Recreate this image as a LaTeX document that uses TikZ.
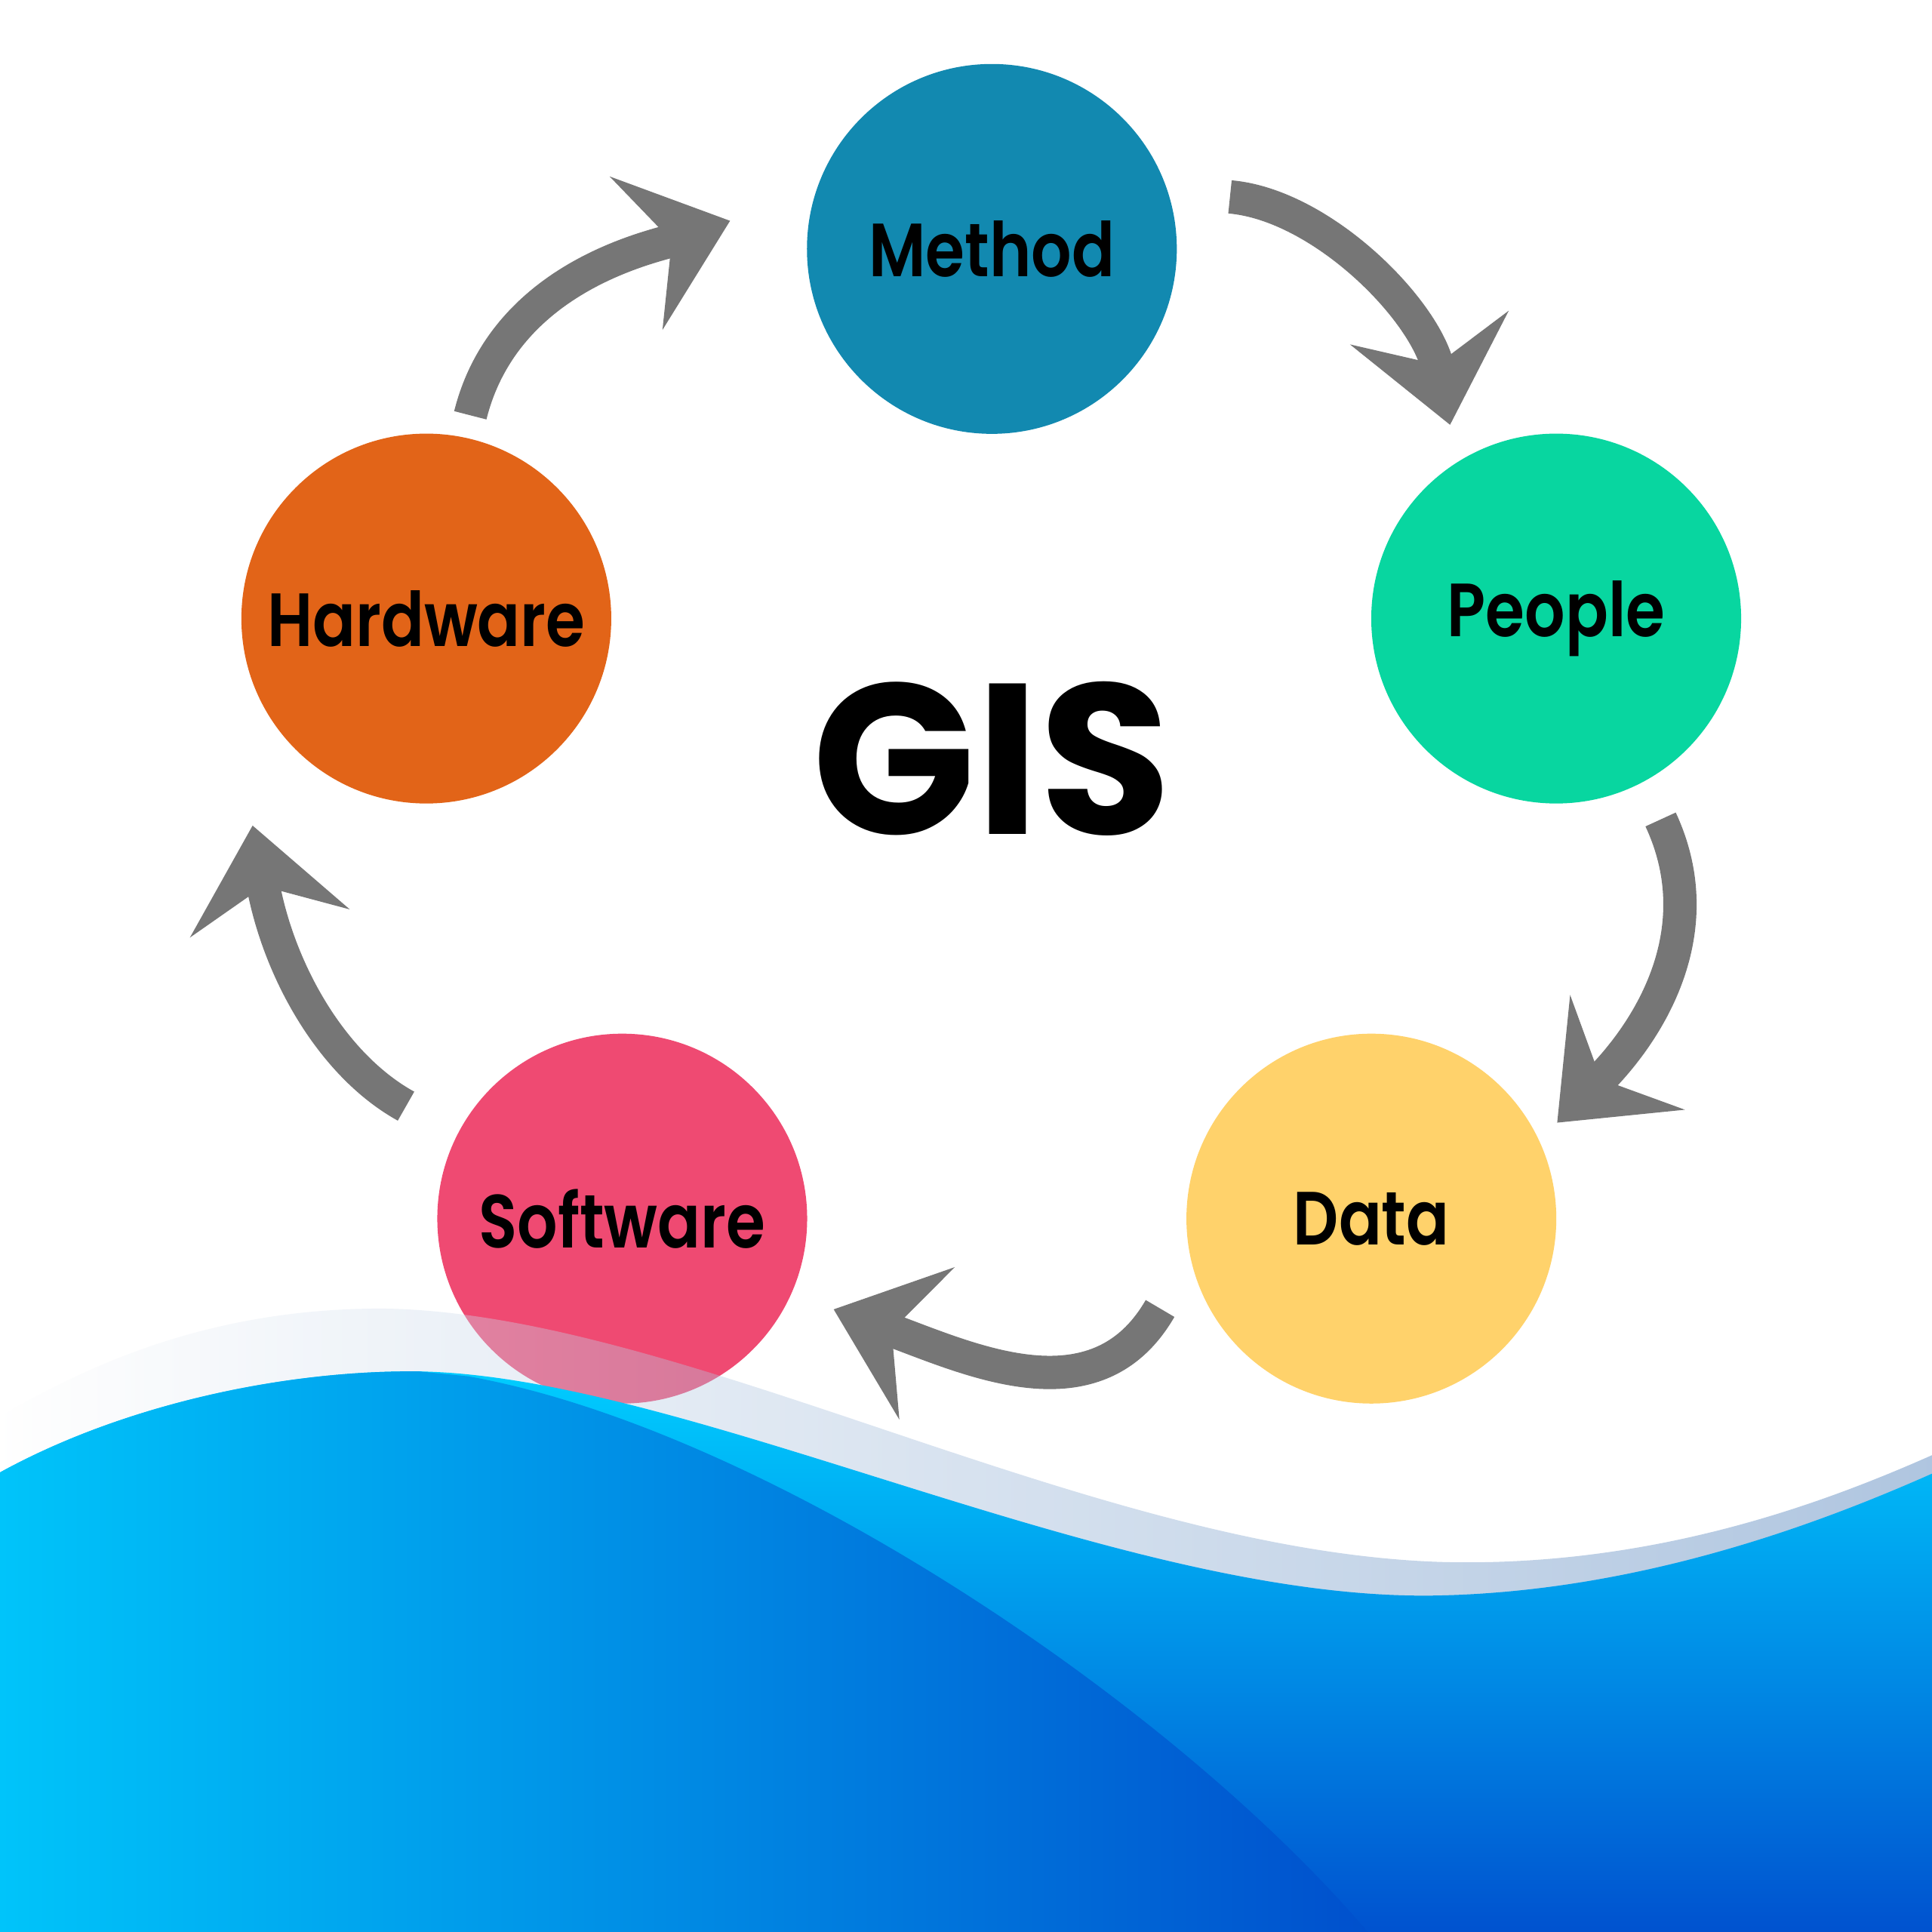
\documentclass[tikz,border=0pt]{standalone}
\usepackage{fontspec}
\usepackage{tikz}
\usetikzlibrary{arrows.meta}
\newfontfamily\labelfont{Poppins}[FakeStretch=0.84, BoldFont={Poppins SemiBold}]
\newfontfamily\titlefont{Poppins}
\definecolor{methodblue}{HTML}{1289B0}
\definecolor{peoplegreen}{HTML}{08D6A0}
\definecolor{datayellow}{HTML}{FFD26B}
\definecolor{softwarepink}{HTML}{EF4A72}
\definecolor{hardwareorange}{HTML}{E26418}
\definecolor{arrowgray}{HTML}{767676}
\definecolor{bandblue}{HTML}{2F69AE}
\definecolor{wavecyan}{HTML}{00CDFF}
\definecolor{wavedeep}{HTML}{0052CF}
\definecolor{swellcyan}{HTML}{00C4FA}
\definecolor{swelldeep}{HTML}{0050CD}

\begin{document}
\begin{tikzpicture}[x=0.01cm, y=-0.01cm, partnode/.style={circle, draw=none, minimum size=3cm, inner sep=0pt, font=\labelfont\bfseries\fontsize{17.4}{20}\selectfont}, flow/.style={draw=arrowgray, line width=0.27cm, -{Stealth[length=0.8cm, width=1.3cm, inset=0.3cm]}}]
\useasboundingbox (0,0) rectangle (1568,1568);
\fill[white] (0,0) rectangle (1568,1568);
\node[partnode, fill=methodblue] (method) at (805,202) {Method};
\node[partnode, fill=peoplegreen] (people) at (1263,502) {People};
\node[partnode, fill=datayellow] (data) at (1113,989) {Data};
\node[partnode, fill=softwarepink] (software) at (505,989) {Software};
\node[partnode, fill=hardwareorange] (hardware) at (346,502) {Hardware};
\node[font=\titlefont\bfseries\fontsize{49.5}{55}\selectfont] (gis) at (805,616) {GIS};
\shade[left color=white, right color=bandblue, opacity=0.38] (0,1150) .. controls (100,1090) and (200,1062) .. (310,1062) .. controls (560,1065) and (900,1268) .. (1190,1268) .. controls (1350,1268) and (1480,1220) .. (1568,1181) -- (1568,1568) -- (0,1568) -- cycle;
\shade[top color=wavecyan, bottom color=wavedeep] (0,1195) .. controls (100,1140) and (230,1112) .. (340,1113) .. controls (560,1117) and (900,1297) .. (1160,1295) .. controls (1330,1293) and (1480,1235) .. (1568,1196) -- (1568,1568) -- (0,1568) -- cycle;
\shade[left color=swellcyan, right color=swelldeep] (0,1195) .. controls (100,1140) and (230,1112) .. (340,1113) -- (380,1117) .. controls (620,1160) and (950,1380) .. (1110,1568) -- (0,1568) -- cycle;
\draw[flow, shorten <=0.5cm, shorten >=0.3cm] (method.18) to[out=-5, in=102] (people.122);
\draw[flow, shorten <=0.33cm, shorten >=0.2cm] (people.-62) to[out=-65, in=45, looseness=1.1] (data.25);
\draw[flow, shorten <=0.48cm, shorten >=0.36cm] (data.192) to[out=240, in=-20, looseness=1.2] (software.-24);
\draw[flow, shorten <=0.47cm] (software.153) to[out=151, in=-80] ([shift={(-141,168)}]hardware.center);
\draw[flow, shorten <=0.18cm, shorten >=0.73cm] (hardware.78) to[out=76, in=-161] (method.162);
\end{tikzpicture}
\end{document}
